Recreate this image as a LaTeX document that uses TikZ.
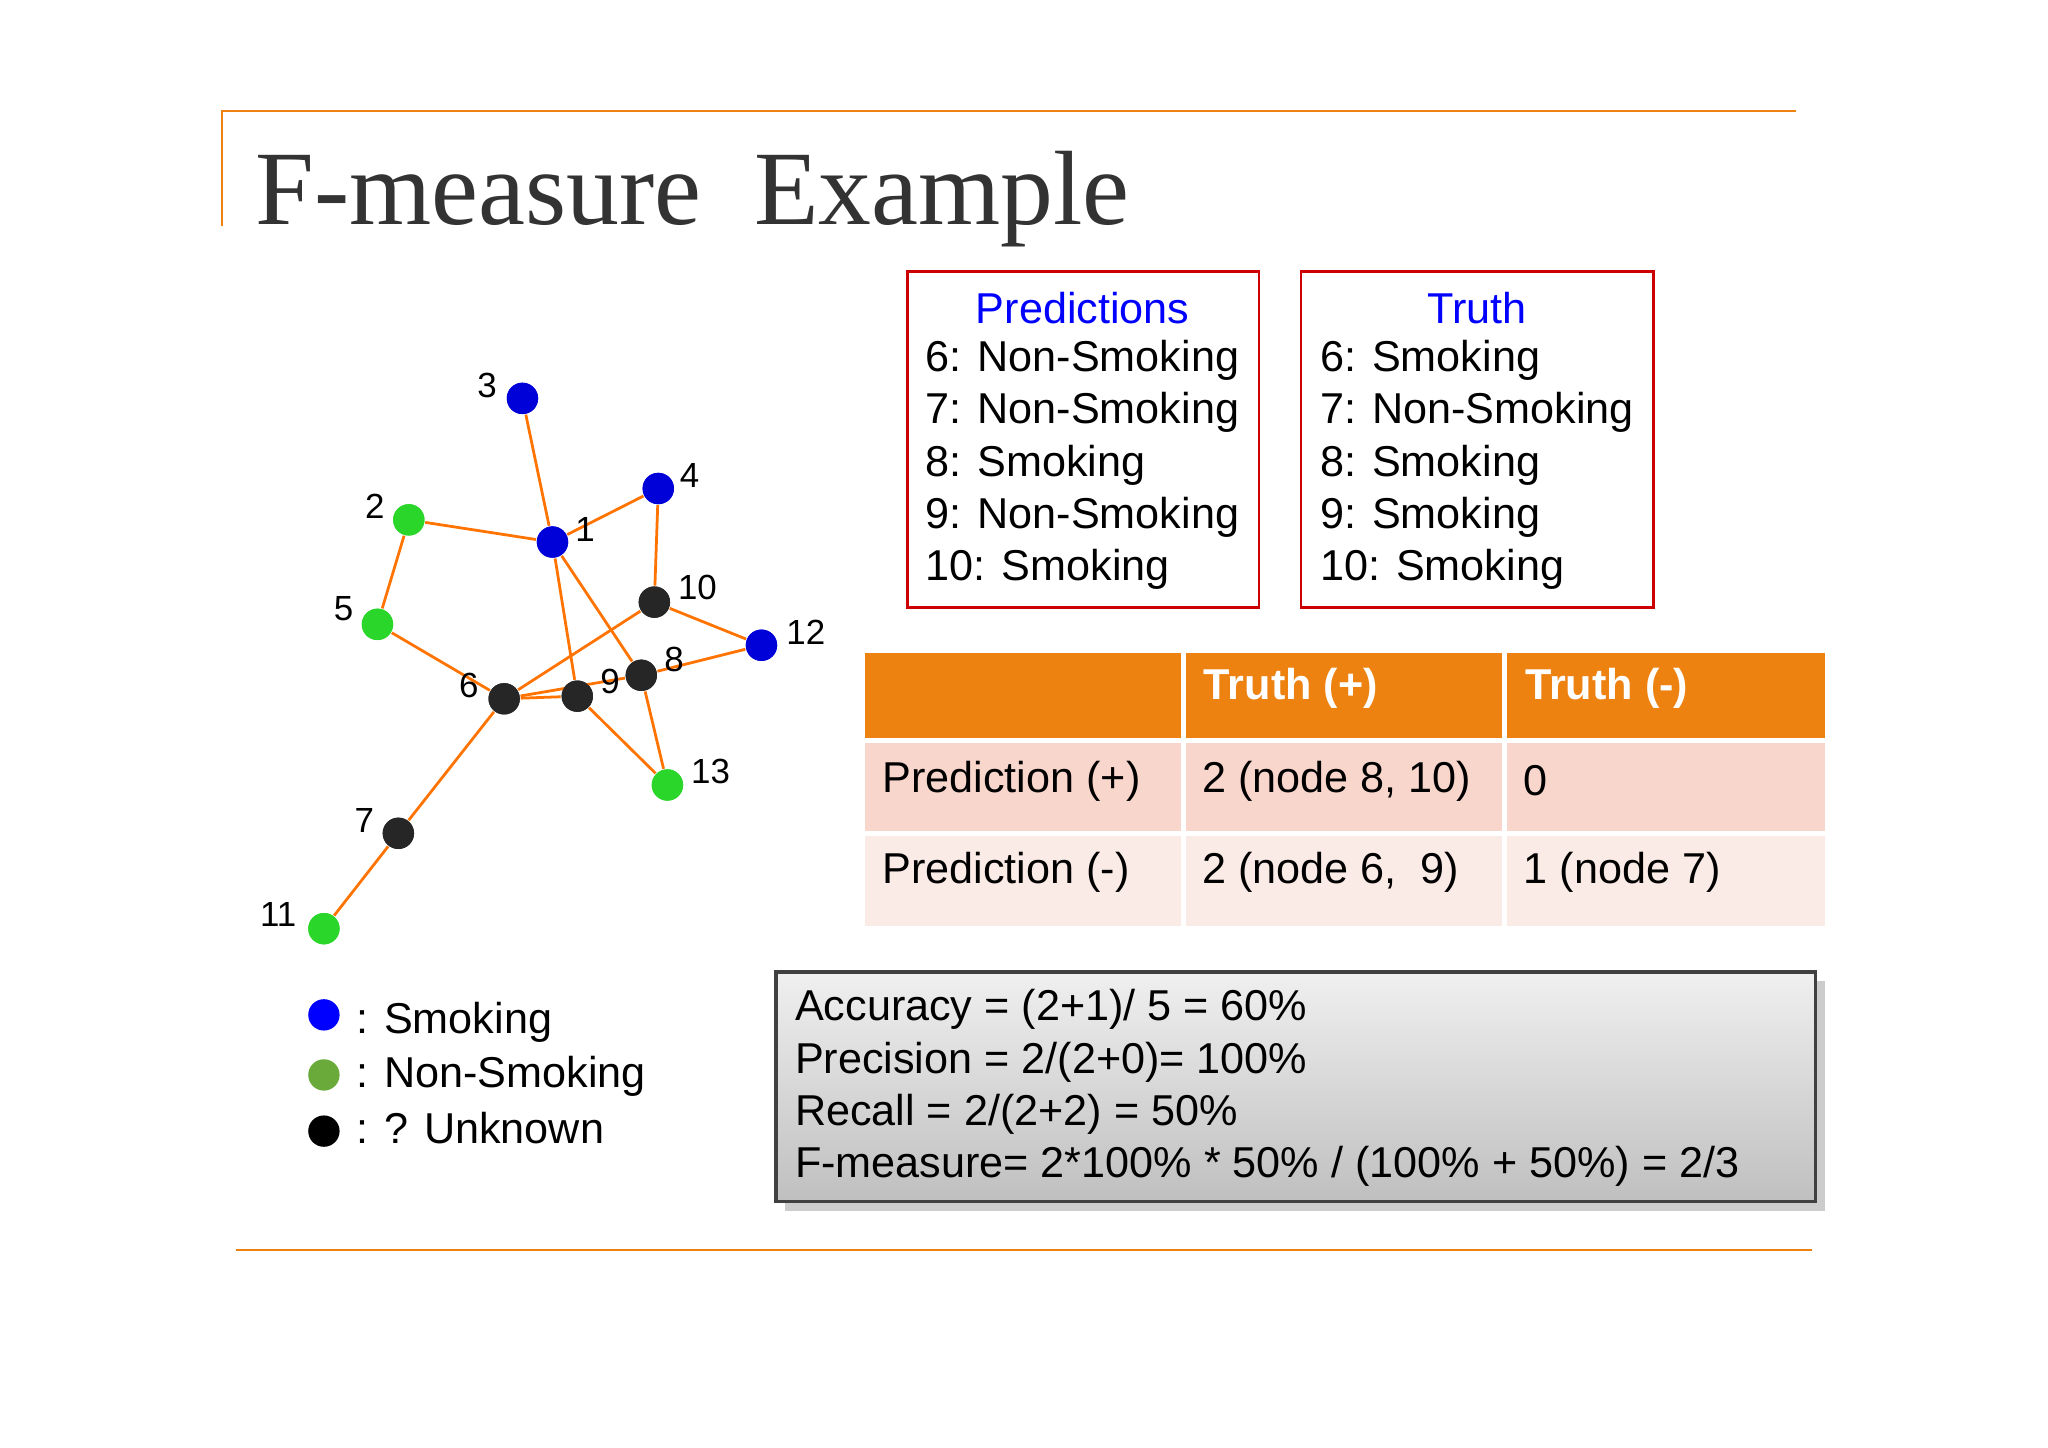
\documentclass[tikz,border=0pt]{standalone}
\usepackage{fontspec}
\setmainfont{Liberation Sans}
\newfontfamily\titlefont{Liberation Serif}
\usetikzlibrary{shadows}
\definecolor{ora}{HTML}{EE8210}
\definecolor{rowa}{HTML}{F8D6CC}
\definecolor{rowb}{HTML}{FBEBE6}
\definecolor{gdot}{HTML}{2BD62B}
\definecolor{lgreen}{HTML}{6AAA3A}
\begin{document}
\begin{tikzpicture}[x=0.01cm,y=-0.01cm,
  dot/.style={circle,inner sep=0pt,minimum size=0.24cm},
  bl/.style={dot,fill=blue!85!black},
  gr/.style={dot,fill=gdot},
  bk/.style={dot,fill=black!85},
  lab/.style={font=\fontsize{7.6}{9}\selectfont},
  edge/.style={draw=orange!90!red,line width=0.6pt},
  txt/.style={font=\fontsize{9.4}{11.4}\selectfont,anchor=west,inner sep=0pt},
  cell/.style={txt},
  hd/.style={txt,font=\fontsize{9.4}{11.4}\selectfont\bfseries,text=white}]
\useasboundingbox (0,0) rectangle (1568,1108.6);
\fill[white] (0,0) rectangle (1568,1108.6);
\draw[ora,line width=0.6pt] (170,173) -- (170,85) -- (1375,85);
\draw[ora,line width=0.6pt] (181,957) -- (1387,957);
\node[anchor=base west,inner sep=0pt,text=black!80,font=\titlefont\fontsize{23}{26}\selectfont] (title) at (195,172) {F-measure\ \ Example};
% graph
\node[bl] (n1) at (423,415) {}; \node[gr] (n2) at (313,398) {};
\node[bl] (n3) at (400,305) {}; \node[bl] (n4) at (504,374) {};
\node[gr] (n5) at (289,478) {}; \node[bk] (n6) at (386,535) {};
\node[bk] (n7) at (305,638) {}; \node[bk] (n8) at (491,517) {};
\node[bk] (n9) at (442,533) {}; \node[bk] (n10) at (501,461) {};
\node[gr] (n11) at (248,711) {}; \node[bl] (n12) at (583,494) {};
\node[gr] (n13) at (511,601) {};
\begin{scope}[on background layer/.style={}]
\end{scope}
\foreach \a/\b in {3/1,2/1,1/4,4/10,2/5,5/6,1/9,1/8,6/10,10/12,8/12,6/9,6/8,8/13,9/13,6/7,7/11}
  \path[edge] (n\a) -- (n\b);
\foreach \n/\x/\y in {1/448/405,2/287/388,3/373/295,4/528/364,5/263/466,6/359/525,7/279/628,8/516/505,9/467/522,10/534/450,11/213/700,12/617/484,13/544/591}
  \node[lab] (l\n) at (\x,\y) {\n};
% redraw dots on top
\foreach \n/\s/\x/\y in {1/bl/423/415,2/gr/313/398,3/bl/400/305,4/bl/504/374,5/gr/289/478,6/bk/386/535,7/bk/305/638,8/bk/491/517,9/bk/442/533,10/bk/501/461,11/gr/248/711,12/bl/583/494,13/gr/511/601}
  \node[\s] (m\n) at (\x,\y) {};
% prediction / truth boxes
\draw[red!80!black,line width=0.6pt] (695,208) rectangle (964,465);
\draw[red!80!black,line width=0.6pt] (996,208) rectangle (1266,465);
\node[txt,anchor=center,text=blue] (ph) at (829,236) {Predictions};
\node[txt,anchor=center,text=blue] (th) at (1131,236) {Truth};
\foreach \t [count=\i] in {6: Non-Smoking,7: Non-Smoking,8: Smoking,9: Non-Smoking,10: Smoking}
  \node[txt] (p\i) at (708,236+40*\i) {\t};
\foreach \t [count=\i] in {6: Smoking,7: Non-Smoking,8: Smoking,9: Smoking,10: Smoking}
  \node[txt] (t\i) at (1010,236+40*\i) {\t};
% table
\fill[ora] (662,500) rectangle (1397,567);
\fill[rowa] (662,567) rectangle (1397,638);
\fill[rowb] (662,638) rectangle (1397,709);
\draw[white,line width=1.2pt] (906,500) -- (906,709) (1152,500) -- (1152,709) (662,567) -- (1397,567) (662,638) -- (1397,638);
\node[hd] (h1) at (921,527) {Truth (+)};
\node[hd] (h2) at (1167,527) {Truth (-)};
\node[cell] (c1) at (675,598) {Prediction (+)};
\node[cell] (c2) at (920,598) {2 (node 8, 10)};
\node[cell] (c3) at (1166,598) {0};
\node[cell] (c4) at (675,668) {Prediction (-)};
\node[cell] (c5) at (920,668) {2 (node 6,\ \ 9)};
\node[cell] (c6) at (1166,668) {1 (node 7)};
% stats box
\shade[top color=black!6,bottom color=black!25,drop shadow={shadow xshift=2pt,shadow yshift=-2pt,opacity=0.4}] (594,744) rectangle (1390,920);
\draw[black!75,line width=0.8pt] (594,744) rectangle (1390,920);
\node[txt] (s1) at (608,773) {Accuracy = (2+1)/ 5 = 60\%};
\node[txt] (s2) at (608,813) {Precision = 2/(2+0)= 100\%};
\node[txt] (s3) at (608,853) {Recall = 2/(2+2) = 50\%};
\node[txt] (s4) at (608,893) {F-measure= 2*100\% * 50\% / (100\% + 50\%) = 2/3};
% legend
\node[dot,fill=blue] (g1) at (248,777) {};
\node[dot,fill=lgreen] (g2) at (248,823) {};
\node[dot,fill=black] (g3) at (248,866) {};
\node[txt] (gl1) at (272,783) {: Smoking};
\node[txt] (gl2) at (272,824) {: Non-Smoking};
\node[txt] (gl3) at (272,864) {: ? Unknown};
\end{tikzpicture}
\end{document}
